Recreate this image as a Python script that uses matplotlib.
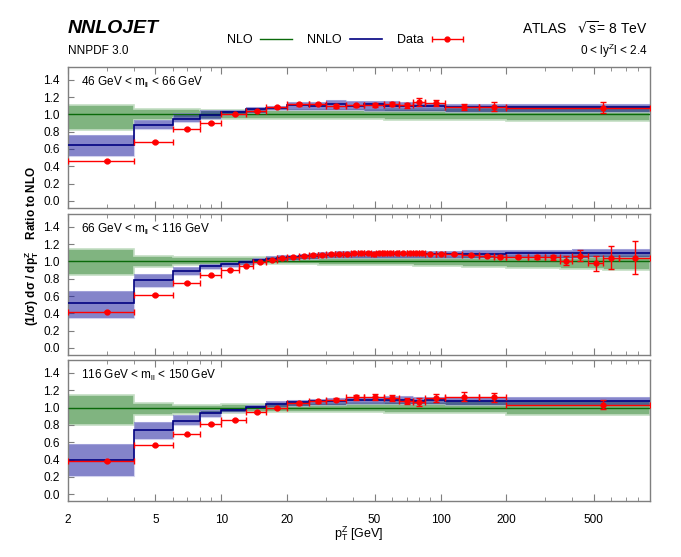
import numpy as np
import matplotlib
matplotlib.use("Agg")
import matplotlib.pyplot as plt
from matplotlib.lines import Line2D
from matplotlib.legend_handler import HandlerErrorbar
from matplotlib.ticker import FixedLocator, NullFormatter

plt.rcParams['font.family'] = ['Liberation Sans', 'DejaVu Sans']

# ---- data ----
# 46 < mll < 66 GeV and 116 < mll < 150 GeV share the binning
edges_off = [2, 4, 6, 8, 10, 13, 16, 20, 25, 30, 37, 45, 55, 65, 75, 85, 105, 150, 200, 900]
# 66 < mll < 116 GeV
edges_on = [2, 4, 6, 8, 10, 12, 14, 16, 18, 20, 22.5, 25, 27.5, 30, 33, 36, 39, 42, 45, 48, 51,
            54, 57, 61, 65, 70, 75, 80, 85, 95, 105, 125, 150, 175, 200, 250, 300, 350, 400,
            470, 550, 650, 900]

panel_labels = ["46 GeV < m$_{\\mathregular{ll}}$ < 66 GeV",
                "66 GeV < m$_{\\mathregular{ll}}$ < 116 GeV",
                "116 GeV < m$_{\\mathregular{ll}}$ < 150 GeV"]

# panel 1
data1 = [0.46, 0.68, 0.83, 0.90, 1.00, 1.04, 1.087, 1.115, 1.12, 1.095, 1.105, 1.11, 1.117,
         1.106, 1.14, 1.13, 1.08, 1.09, 1.076]
err1 = [0.01, 0.01, 0.01, 0.01, 0.01, 0.012, 0.012, 0.015, 0.015, 0.02, 0.02, 0.02, 0.025,
        0.03, 0.045, 0.035, 0.035, 0.05, 0.065]
nnlo1 = [0.65, 0.875, 0.95, 0.99, 1.023, 1.057, 1.075, 1.11, 1.10, 1.12, 1.10, 1.12, 1.095,
         1.10, 1.10, 1.10, 1.08, 1.08, 1.08]
nnlo1_lo = [0.52, 0.83, 0.913, 0.943, 0.994, 1.02, 1.05, 1.05, 1.05, 1.05, 1.05, 1.04, 1.04,
            1.04, 1.04, 1.04, 1.03, 1.03, 1.03]
nnlo1_hi = [0.76, 0.93, 1.015, 1.045, 1.05, 1.09, 1.10, 1.14, 1.14, 1.17, 1.15, 1.15, 1.15,
            1.14, 1.13, 1.13, 1.12, 1.12, 1.12]
nlo1_lo = [0.82, 0.93, 0.955, 0.95, 0.95, 0.95, 0.95, 0.95, 0.95, 0.95, 0.95, 0.95, 0.94,
           0.94, 0.94, 0.94, 0.935, 0.93, 0.92]
nlo1_hi = [1.113, 1.06, 1.06, 1.05, 1.05, 1.05, 1.05, 1.05, 1.05, 1.05, 1.05, 1.05, 1.06,
           1.06, 1.06, 1.06, 1.07, 1.07, 1.08]

# panel 2
data2 = [0.42, 0.61, 0.75, 0.84, 0.905, 0.95, 0.99, 1.02, 1.04, 1.055, 1.065, 1.075, 1.08,
         1.085, 1.09, 1.09, 1.095, 1.095, 1.10, 1.09, 1.10, 1.095, 1.10, 1.10, 1.095, 1.10,
         1.095, 1.095, 1.09, 1.09, 1.087, 1.075, 1.065, 1.055, 1.057, 1.05, 1.05, 1.01, 1.068,
         0.98, 1.045, 1.045]
err2 = [0.008] * 31 + [0.01, 0.012, 0.015, 0.015, 0.025, 0.03, 0.05, 0.065, 0.085, 0.135, 0.19]
nnlo2 = [0.52, 0.79, 0.886, 0.943, 0.966, 0.99, 1.015, 1.03, 1.04, 1.05, 1.06, 1.065, 1.07,
         1.075, 1.08, 1.08, 1.085, 1.085, 1.09, 1.09, 1.09, 1.09, 1.09, 1.09, 1.09, 1.09, 1.09,
         1.09, 1.09, 1.09, 1.09, 1.09, 1.09, 1.09, 1.095, 1.095, 1.095, 1.095, 1.10, 1.10,
         1.10, 1.10]
nnlo2_lo = [0.34, 0.71, 0.84, 0.91, 0.94, 0.96, 0.98, 1.0, 1.01, 1.02, 1.03, 1.03, 1.035,
            1.04, 1.04, 1.04, 1.04, 1.045, 1.045, 1.045, 1.045, 1.045, 1.045, 1.045, 1.045,
            1.045, 1.045, 1.045, 1.045, 1.045, 1.045, 1.045, 1.045, 1.045, 1.045, 1.045, 1.045,
            1.045, 1.045, 1.05, 1.05, 1.05]
nnlo2_hi = [0.663, 0.86, 0.93, 0.975, 0.99, 1.02, 1.045, 1.06, 1.07, 1.08, 1.09, 1.10, 1.105,
            1.11, 1.115, 1.115, 1.12, 1.12, 1.125, 1.125, 1.125, 1.125, 1.125, 1.125, 1.125,
            1.125, 1.125, 1.125, 1.125, 1.125, 1.125, 1.13, 1.13, 1.13, 1.13, 1.13, 1.135,
            1.135, 1.14, 1.14, 1.14, 1.14]
nlo2_lo = [0.84, 0.93, 0.955, 0.96, 0.965, 0.965, 0.965, 0.965, 0.965, 0.965, 0.965, 0.965,
           0.962, 0.962, 0.962, 0.962, 0.962, 0.96, 0.96, 0.96, 0.96, 0.958, 0.958, 0.955,
           0.955, 0.955, 0.952, 0.95, 0.948, 0.945, 0.943, 0.94, 0.935, 0.93, 0.928, 0.925,
           0.92, 0.918, 0.915, 0.91, 0.905, 0.90]
nlo2_hi = [1.14, 1.064, 1.057, 1.05, 1.05, 1.05, 1.05, 1.05, 1.05, 1.05, 1.05, 1.05, 1.05,
           1.05, 1.05, 1.05, 1.05, 1.05, 1.05, 1.05, 1.05, 1.05, 1.05, 1.05, 1.05, 1.05, 1.05,
           1.055, 1.055, 1.055, 1.055, 1.06, 1.06, 1.06, 1.06, 1.065, 1.065, 1.065, 1.07,
           1.07, 1.07, 1.07]

# panel 3
data3 = [0.38, 0.563, 0.69, 0.81, 0.86, 0.95, 0.99, 1.05, 1.072, 1.09, 1.12, 1.12, 1.11,
         1.076, 1.068, 1.11, 1.125, 1.117, 1.034]
err3 = [0.01, 0.01, 0.01, 0.01, 0.01, 0.012, 0.012, 0.015, 0.015, 0.02, 0.03, 0.035, 0.04,
        0.03, 0.045, 0.05, 0.05, 0.05, 0.053]
nnlo3 = [0.395, 0.745, 0.85, 0.935, 0.973, 1.008, 1.04, 1.06, 1.07, 1.075, 1.085, 1.09, 1.09,
         1.085, 1.08, 1.09, 1.08, 1.08, 1.08]
nnlo3_lo = [0.21, 0.64, 0.80, 0.89, 0.947, 0.98, 1.01, 1.02, 1.03, 1.03, 1.04, 1.04, 1.04,
            1.04, 1.04, 1.04, 1.03, 1.03, 1.03]
nnlo3_hi = [0.58, 0.83, 0.91, 0.97, 1.00, 1.035, 1.07, 1.09, 1.10, 1.11, 1.12, 1.125, 1.13,
            1.13, 1.12, 1.12, 1.12, 1.12, 1.12]
nlo3_lo = [0.80, 0.916, 0.93, 0.935, 0.94, 0.945, 0.945, 0.945, 0.945, 0.945, 0.945, 0.945,
           0.94, 0.94, 0.94, 0.94, 0.935, 0.935, 0.92]
nlo3_hi = [1.15, 1.057, 1.034, 1.034, 1.04, 1.04, 1.045, 1.05, 1.05, 1.05, 1.05, 1.05, 1.06,
           1.06, 1.06, 1.06, 1.07, 1.07, 1.08]

panels = [
    (edges_off, data1, err1, nnlo1, nnlo1_lo, nnlo1_hi, nlo1_lo, nlo1_hi),
    (edges_on, data2, err2, nnlo2, nnlo2_lo, nnlo2_hi, nlo2_lo, nlo2_hi),
    (edges_off, data3, err3, nnlo3, nnlo3_lo, nnlo3_hi, nlo3_lo, nlo3_hi),
]

xticks = [2, 5, 10, 20, 50, 100, 200, 500]
yticks = [0.0, 0.2, 0.4, 0.6, 0.8, 1.0, 1.2, 1.4]

# colours
green_line = "#0a6a0a"
green_band = "#80b480"
green_edge = "#c4dec4"
blue_line = "#000080"
blue_band = "#2020a0"
blue_edge = "#b4b4e4"
frame = "#7f7f7f"

fig = plt.figure(figsize=(6.81, 5.57), dpi=100)

# axes rectangles [left, bottom, width, height] in figure fraction
boxes = [[0.100, 0.627, 0.854, 0.253],
         [0.100, 0.363, 0.854, 0.253],
         [0.100, 0.100, 0.854, 0.254]]

for i, (edges, data, err, nnlo, nnlo_lo, nnlo_hi, nlo_lo, nlo_hi) in enumerate(panels):
    ax = fig.add_axes(boxes[i])
    ax.set_xscale('log')
    e = np.array(edges, dtype=float)

    # NLO band + line
    ax.stairs(nlo_hi, e, baseline=nlo_lo, fill=True, facecolor=green_band,
              edgecolor=green_edge, linewidth=1.2, zorder=1)
    ax.stairs(np.ones(len(e) - 1), e, baseline=None, color=green_line, linewidth=1.0, zorder=3)

    # NNLO band + line
    ax.stairs(nnlo_hi, e, baseline=nnlo_lo, fill=True, facecolor=blue_band, alpha=0.55,
              edgecolor='none', zorder=2)
    ax.stairs(nnlo_hi, e, baseline=nnlo_lo, fill=False, edgecolor=blue_edge,
              linewidth=0.8, alpha=0.6, zorder=2)
    ax.stairs(nnlo, e, baseline=None, color=blue_line, linewidth=1.2, zorder=4)

    # data at arithmetic bin centres
    xc = 0.5 * (e[1:] + e[:-1])
    xlo = xc - e[:-1]
    xhi = e[1:] - xc
    ax.errorbar(xc, data, xerr=[xlo, xhi], yerr=err, fmt='o', color='red', ms=3.5,
                elinewidth=1.0, capsize=2.5, capthick=1.0, zorder=5)

    ax.set_xlim(2, 900)
    ax.set_ylim(-0.08, 1.55)

    ax.xaxis.set_major_locator(FixedLocator(xticks))
    minors = [m * 10 ** k for k in range(0, 3) for m in range(2, 10)]
    ax.xaxis.set_minor_locator(FixedLocator([v for v in minors if v not in xticks]))
    ax.xaxis.set_minor_formatter(NullFormatter())
    ax.set_yticks(yticks)
    ax.set_yticklabels(["%.1f" % v for v in yticks], fontsize=8.5)
    ax.tick_params(axis='x', which='major', direction='in', top=True, length=5, color=frame)
    ax.tick_params(axis='x', which='minor', direction='in', top=True, length=3, color=frame)
    ax.tick_params(axis='y', direction='in', length=4, color=frame, pad=6)
    for s in ax.spines.values():
        s.set_color(frame)
        s.set_linewidth(1.0)

    if i < 2:
        ax.set_xticklabels([])
    else:
        ax.set_xticklabels([str(v) for v in xticks], fontsize=8.5)
        ax.tick_params(axis='x', which='major', pad=9)
        ax.set_xlabel("p$_\\mathregular{T}^\\mathregular{Z}$ [GeV]", fontsize=9, labelpad=-1)

    ax.text(0.023, 0.89, panel_labels[i], transform=ax.transAxes, fontsize=8.5,
            ha='left', va='center')

# dummy off-range errorbar, only used for the legend handle
data_handle = ax.errorbar([1e-3], [1e-3], xerr=[[5e-4], [5e-4]], fmt='o', color='red',
                          ms=3.5, elinewidth=1.0, capsize=2.5, capthick=1.0)

# header texts
fig.text(0.100, 0.948, "NNLOJET", fontsize=14, fontweight='bold', fontstyle='italic',
         ha='left', va='center')
fig.text(0.100, 0.908, "NNPDF 3.0", fontsize=8.5, ha='left', va='center')
fig.text(0.951, 0.948, "ATLAS   $\\sqrt{\\mathregular{s}}$= 8 TeV", fontsize=10,
         ha='right', va='center')
fig.text(0.951, 0.908, "0 < ly$^\\mathregular{Z}$l < 2.4", fontsize=8.5,
         ha='right', va='center')

# y label spanning the panels
fig.text(0.046, 0.558, "(1/σ) dσ / dp$_\\mathregular{T}^\\mathregular{Z}$    Ratio to NLO",
         rotation=90, fontsize=8.5, fontweight='bold', ha='center', va='center')

# legend
handles = [Line2D([], [], color=green_line, lw=1.0),
           Line2D([], [], color=blue_line, lw=1.2),
           data_handle]
fig.legend(handles, ["NLO", "NNLO", "Data"], loc='center', bbox_to_anchor=(0.507, 0.928),
           ncol=3, frameon=False, markerfirst=False, fontsize=9, handlelength=2.6,
           columnspacing=1.2, handletextpad=0.6,
           handler_map={data_handle: HandlerErrorbar(xerr_size=1.25)})

fig.savefig("out.png", dpi=100)
